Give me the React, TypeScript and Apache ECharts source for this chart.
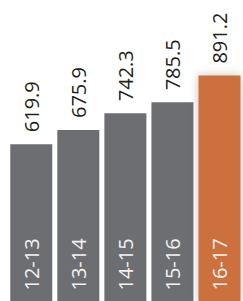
import React, { useEffect, useRef } from "react";
import * as echarts from "echarts";

const categories = ["12-13", "13-14", "14-15", "15-16", "16-17"];
const values = [619.9, 675.9, 742.3, 785.5, 891.2];
const highlightIndex = 4;

const GREY = "#6d6e71";
const ORANGE = "#cc6f3c";

export default function App() {
  const ref = useRef<HTMLDivElement>(null);
  useEffect(() => {
    if (!ref.current) return;
    const chart = echarts.init(ref.current, undefined, { renderer: "svg" });
    const font = "'Open Sans', sans-serif";
    chart.setOption({
      animation: false,
      grid: { left: 7.75, right: -7.25, top: 0, bottom: -1.6 },
      xAxis: {
        type: "category",
        data: categories,
        show: false,
      },
      yAxis: { type: "value", min: 0, max: 1190, show: false },
      series: [
        {
          type: "bar",
          barWidth: 42,
          data: values.map((v, i) => ({
            value: v,
            itemStyle:
              i === highlightIndex
                ? { color: ORANGE, shadowBlur: 8, shadowColor: "rgba(0,0,0,0.25)" }
                : { color: GREY },
          })),
          label: {
            show: true,
            position: "top",
            rotate: 90,
            align: "left",
            verticalAlign: "middle",
            distance: 12,
            fontFamily: font,
            fontSize: 20,
            color: "#231f20",
            formatter: (p: any) => Number(p.value).toFixed(1),
          },
        },
        {
          type: "bar",
          barWidth: 42,
          barGap: "-100%",
          silent: true,
          itemStyle: { color: "transparent" },
          data: values,
          label: {
            show: true,
            position: "insideBottom",
            rotate: 90,
            align: "left",
            verticalAlign: "middle",
            distance: 10.5,
            fontFamily: font,
            fontSize: 20,
            color: "#f2f2f2",
            formatter: (p: any) => p.name,
          },
        },
      ],
    });
    return () => chart.dispose();
  }, []);
  return (
    <div
      ref={ref}
      style={{ position: "fixed", left: 0, top: 0, width: 243, height: 301, background: "#fff" }}
    />
  );
}
